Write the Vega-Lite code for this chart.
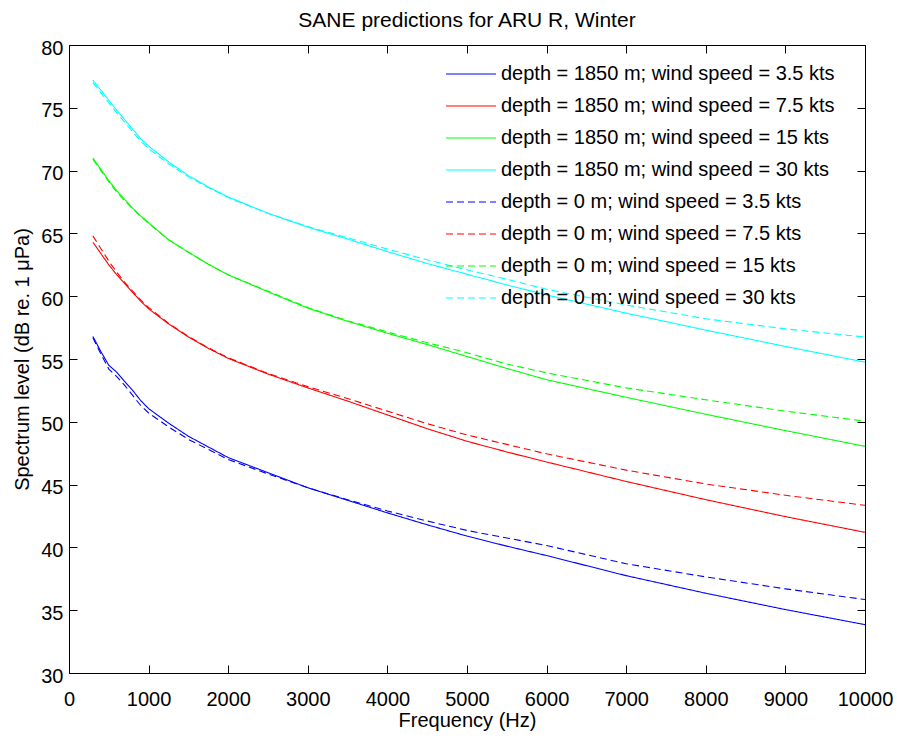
{
  "$schema": "https://vega.github.io/schema/vega-lite/v6.json",
  "width": 796,
  "height": 628,
  "autosize": {"type": "none"},
  "padding": {"left": 69, "top": 45, "right": 32, "bottom": 65},
  "title": {"text": "SANE predictions for ARU R, Winter", "fontSize": 21, "fontWeight": "normal", "color": "#000", "font": "Liberation Sans", "anchor": "middle", "frame": "group", "baseline": "bottom", "offset": 12, "dy": 26},
  "config": {
    "font": "Liberation Sans",
    "view": {"stroke": null},
    "axis": {"grid": false, "domainColor": "#000", "tickColor": "#000", "labelColor": "#000", "titleColor": "#000", "labelFontSize": 20, "titleFontSize": 20, "titleFontWeight": "normal", "tickSize": -8, "labelFont": "Liberation Sans", "titleFont": "Liberation Sans"}
  },
  "data": {"values": [
    {"s":"depth = 1850 m; wind speed = 3.5 kts","f":300,"v":56.8},{"s":"depth = 1850 m; wind speed = 3.5 kts","f":400,"v":55.6},{"s":"depth = 1850 m; wind speed = 3.5 kts","f":500,"v":54.5},{"s":"depth = 1850 m; wind speed = 3.5 kts","f":600,"v":53.95},{"s":"depth = 1850 m; wind speed = 3.5 kts","f":700,"v":53.2},{"s":"depth = 1850 m; wind speed = 3.5 kts","f":800,"v":52.5},{"s":"depth = 1850 m; wind speed = 3.5 kts","f":900,"v":51.7},{"s":"depth = 1850 m; wind speed = 3.5 kts","f":1000,"v":51.05},{"s":"depth = 1850 m; wind speed = 3.5 kts","f":1250,"v":49.9},{"s":"depth = 1850 m; wind speed = 3.5 kts","f":1500,"v":48.85},{"s":"depth = 1850 m; wind speed = 3.5 kts","f":1750,"v":48.0},{"s":"depth = 1850 m; wind speed = 3.5 kts","f":2000,"v":47.15},{"s":"depth = 1850 m; wind speed = 3.5 kts","f":2500,"v":45.95},{"s":"depth = 1850 m; wind speed = 3.5 kts","f":3000,"v":44.75},{"s":"depth = 1850 m; wind speed = 3.5 kts","f":3500,"v":43.75},{"s":"depth = 1850 m; wind speed = 3.5 kts","f":4000,"v":42.75},{"s":"depth = 1850 m; wind speed = 3.5 kts","f":4500,"v":41.8},{"s":"depth = 1850 m; wind speed = 3.5 kts","f":5000,"v":40.9},{"s":"depth = 1850 m; wind speed = 3.5 kts","f":5500,"v":40.1},{"s":"depth = 1850 m; wind speed = 3.5 kts","f":6000,"v":39.35},{"s":"depth = 1850 m; wind speed = 3.5 kts","f":7000,"v":37.75},{"s":"depth = 1850 m; wind speed = 3.5 kts","f":8000,"v":36.35},{"s":"depth = 1850 m; wind speed = 3.5 kts","f":9000,"v":35.05},{"s":"depth = 1850 m; wind speed = 3.5 kts","f":10000,"v":33.85},
    {"s":"depth = 1850 m; wind speed = 7.5 kts","f":300,"v":64.3},{"s":"depth = 1850 m; wind speed = 7.5 kts","f":400,"v":63.4},{"s":"depth = 1850 m; wind speed = 7.5 kts","f":500,"v":62.5},{"s":"depth = 1850 m; wind speed = 7.5 kts","f":600,"v":61.7},{"s":"depth = 1850 m; wind speed = 7.5 kts","f":700,"v":61.0},{"s":"depth = 1850 m; wind speed = 7.5 kts","f":800,"v":60.3},{"s":"depth = 1850 m; wind speed = 7.5 kts","f":900,"v":59.6},{"s":"depth = 1850 m; wind speed = 7.5 kts","f":1000,"v":59.0},{"s":"depth = 1850 m; wind speed = 7.5 kts","f":1250,"v":57.8},{"s":"depth = 1850 m; wind speed = 7.5 kts","f":1500,"v":56.75},{"s":"depth = 1850 m; wind speed = 7.5 kts","f":1750,"v":55.85},{"s":"depth = 1850 m; wind speed = 7.5 kts","f":2000,"v":55.05},{"s":"depth = 1850 m; wind speed = 7.5 kts","f":2500,"v":53.8},{"s":"depth = 1850 m; wind speed = 7.5 kts","f":3000,"v":52.7},{"s":"depth = 1850 m; wind speed = 7.5 kts","f":3500,"v":51.65},{"s":"depth = 1850 m; wind speed = 7.5 kts","f":4000,"v":50.55},{"s":"depth = 1850 m; wind speed = 7.5 kts","f":4500,"v":49.45},{"s":"depth = 1850 m; wind speed = 7.5 kts","f":5000,"v":48.45},{"s":"depth = 1850 m; wind speed = 7.5 kts","f":5500,"v":47.6},{"s":"depth = 1850 m; wind speed = 7.5 kts","f":6000,"v":46.8},{"s":"depth = 1850 m; wind speed = 7.5 kts","f":7000,"v":45.25},{"s":"depth = 1850 m; wind speed = 7.5 kts","f":8000,"v":43.8},{"s":"depth = 1850 m; wind speed = 7.5 kts","f":9000,"v":42.45},{"s":"depth = 1850 m; wind speed = 7.5 kts","f":10000,"v":41.2},
    {"s":"depth = 1850 m; wind speed = 15 kts","f":300,"v":71.0},{"s":"depth = 1850 m; wind speed = 15 kts","f":400,"v":70.1},{"s":"depth = 1850 m; wind speed = 15 kts","f":500,"v":69.2},{"s":"depth = 1850 m; wind speed = 15 kts","f":600,"v":68.4},{"s":"depth = 1850 m; wind speed = 15 kts","f":700,"v":67.7},{"s":"depth = 1850 m; wind speed = 15 kts","f":800,"v":67.0},{"s":"depth = 1850 m; wind speed = 15 kts","f":900,"v":66.4},{"s":"depth = 1850 m; wind speed = 15 kts","f":1000,"v":65.85},{"s":"depth = 1850 m; wind speed = 15 kts","f":1250,"v":64.5},{"s":"depth = 1850 m; wind speed = 15 kts","f":1500,"v":63.5},{"s":"depth = 1850 m; wind speed = 15 kts","f":1750,"v":62.55},{"s":"depth = 1850 m; wind speed = 15 kts","f":2000,"v":61.7},{"s":"depth = 1850 m; wind speed = 15 kts","f":2500,"v":60.35},{"s":"depth = 1850 m; wind speed = 15 kts","f":3000,"v":59.05},{"s":"depth = 1850 m; wind speed = 15 kts","f":3500,"v":58.0},{"s":"depth = 1850 m; wind speed = 15 kts","f":4000,"v":57.05},{"s":"depth = 1850 m; wind speed = 15 kts","f":4500,"v":56.15},{"s":"depth = 1850 m; wind speed = 15 kts","f":5000,"v":55.2},{"s":"depth = 1850 m; wind speed = 15 kts","f":5500,"v":54.25},{"s":"depth = 1850 m; wind speed = 15 kts","f":6000,"v":53.35},{"s":"depth = 1850 m; wind speed = 15 kts","f":7000,"v":51.95},{"s":"depth = 1850 m; wind speed = 15 kts","f":8000,"v":50.6},{"s":"depth = 1850 m; wind speed = 15 kts","f":9000,"v":49.3},{"s":"depth = 1850 m; wind speed = 15 kts","f":10000,"v":48.05},
    {"s":"depth = 1850 m; wind speed = 30 kts","f":300,"v":77.2},{"s":"depth = 1850 m; wind speed = 30 kts","f":400,"v":76.4},{"s":"depth = 1850 m; wind speed = 30 kts","f":500,"v":75.6},{"s":"depth = 1850 m; wind speed = 30 kts","f":600,"v":74.8},{"s":"depth = 1850 m; wind speed = 30 kts","f":700,"v":74.05},{"s":"depth = 1850 m; wind speed = 30 kts","f":800,"v":73.3},{"s":"depth = 1850 m; wind speed = 30 kts","f":900,"v":72.55},{"s":"depth = 1850 m; wind speed = 30 kts","f":1000,"v":71.95},{"s":"depth = 1850 m; wind speed = 30 kts","f":1250,"v":70.7},{"s":"depth = 1850 m; wind speed = 30 kts","f":1500,"v":69.6},{"s":"depth = 1850 m; wind speed = 30 kts","f":1750,"v":68.7},{"s":"depth = 1850 m; wind speed = 30 kts","f":2000,"v":67.9},{"s":"depth = 1850 m; wind speed = 30 kts","f":2500,"v":66.6},{"s":"depth = 1850 m; wind speed = 30 kts","f":3000,"v":65.5},{"s":"depth = 1850 m; wind speed = 30 kts","f":3500,"v":64.55},{"s":"depth = 1850 m; wind speed = 30 kts","f":4000,"v":63.55},{"s":"depth = 1850 m; wind speed = 30 kts","f":4500,"v":62.6},{"s":"depth = 1850 m; wind speed = 30 kts","f":5000,"v":61.75},{"s":"depth = 1850 m; wind speed = 30 kts","f":5500,"v":60.9},{"s":"depth = 1850 m; wind speed = 30 kts","f":6000,"v":60.1},{"s":"depth = 1850 m; wind speed = 30 kts","f":7000,"v":58.65},{"s":"depth = 1850 m; wind speed = 30 kts","f":8000,"v":57.3},{"s":"depth = 1850 m; wind speed = 30 kts","f":9000,"v":56.0},{"s":"depth = 1850 m; wind speed = 30 kts","f":10000,"v":54.75},
    {"s":"depth = 0 m; wind speed = 3.5 kts","f":300,"v":56.7},{"s":"depth = 0 m; wind speed = 3.5 kts","f":400,"v":55.4},{"s":"depth = 0 m; wind speed = 3.5 kts","f":500,"v":54.2},{"s":"depth = 0 m; wind speed = 3.5 kts","f":600,"v":53.6},{"s":"depth = 0 m; wind speed = 3.5 kts","f":700,"v":52.9},{"s":"depth = 0 m; wind speed = 3.5 kts","f":800,"v":52.1},{"s":"depth = 0 m; wind speed = 3.5 kts","f":900,"v":51.3},{"s":"depth = 0 m; wind speed = 3.5 kts","f":1000,"v":50.7},{"s":"depth = 0 m; wind speed = 3.5 kts","f":1250,"v":49.6},{"s":"depth = 0 m; wind speed = 3.5 kts","f":1500,"v":48.6},{"s":"depth = 0 m; wind speed = 3.5 kts","f":1750,"v":47.8},{"s":"depth = 0 m; wind speed = 3.5 kts","f":2000,"v":47.0},{"s":"depth = 0 m; wind speed = 3.5 kts","f":2500,"v":45.85},{"s":"depth = 0 m; wind speed = 3.5 kts","f":3000,"v":44.75},{"s":"depth = 0 m; wind speed = 3.5 kts","f":3500,"v":43.8},{"s":"depth = 0 m; wind speed = 3.5 kts","f":4000,"v":42.9},{"s":"depth = 0 m; wind speed = 3.5 kts","f":4500,"v":42.1},{"s":"depth = 0 m; wind speed = 3.5 kts","f":5000,"v":41.35},{"s":"depth = 0 m; wind speed = 3.5 kts","f":5500,"v":40.75},{"s":"depth = 0 m; wind speed = 3.5 kts","f":6000,"v":40.15},{"s":"depth = 0 m; wind speed = 3.5 kts","f":7000,"v":38.7},{"s":"depth = 0 m; wind speed = 3.5 kts","f":8000,"v":37.65},{"s":"depth = 0 m; wind speed = 3.5 kts","f":9000,"v":36.7},{"s":"depth = 0 m; wind speed = 3.5 kts","f":10000,"v":35.85},
    {"s":"depth = 0 m; wind speed = 7.5 kts","f":300,"v":64.8},{"s":"depth = 0 m; wind speed = 7.5 kts","f":400,"v":63.8},{"s":"depth = 0 m; wind speed = 7.5 kts","f":500,"v":62.8},{"s":"depth = 0 m; wind speed = 7.5 kts","f":600,"v":61.9},{"s":"depth = 0 m; wind speed = 7.5 kts","f":700,"v":61.1},{"s":"depth = 0 m; wind speed = 7.5 kts","f":800,"v":60.4},{"s":"depth = 0 m; wind speed = 7.5 kts","f":900,"v":59.7},{"s":"depth = 0 m; wind speed = 7.5 kts","f":1000,"v":59.1},{"s":"depth = 0 m; wind speed = 7.5 kts","f":1250,"v":57.85},{"s":"depth = 0 m; wind speed = 7.5 kts","f":1500,"v":56.8},{"s":"depth = 0 m; wind speed = 7.5 kts","f":1750,"v":55.9},{"s":"depth = 0 m; wind speed = 7.5 kts","f":2000,"v":55.1},{"s":"depth = 0 m; wind speed = 7.5 kts","f":2500,"v":53.85},{"s":"depth = 0 m; wind speed = 7.5 kts","f":3000,"v":52.8},{"s":"depth = 0 m; wind speed = 7.5 kts","f":3500,"v":51.85},{"s":"depth = 0 m; wind speed = 7.5 kts","f":4000,"v":50.85},{"s":"depth = 0 m; wind speed = 7.5 kts","f":4500,"v":49.85},{"s":"depth = 0 m; wind speed = 7.5 kts","f":5000,"v":48.95},{"s":"depth = 0 m; wind speed = 7.5 kts","f":5500,"v":48.2},{"s":"depth = 0 m; wind speed = 7.5 kts","f":6000,"v":47.45},{"s":"depth = 0 m; wind speed = 7.5 kts","f":7000,"v":46.15},{"s":"depth = 0 m; wind speed = 7.5 kts","f":8000,"v":45.05},{"s":"depth = 0 m; wind speed = 7.5 kts","f":9000,"v":44.15},{"s":"depth = 0 m; wind speed = 7.5 kts","f":10000,"v":43.35},
    {"s":"depth = 0 m; wind speed = 15 kts","f":300,"v":70.9},{"s":"depth = 0 m; wind speed = 15 kts","f":400,"v":70.0},{"s":"depth = 0 m; wind speed = 15 kts","f":500,"v":69.1},{"s":"depth = 0 m; wind speed = 15 kts","f":600,"v":68.3},{"s":"depth = 0 m; wind speed = 15 kts","f":700,"v":67.6},{"s":"depth = 0 m; wind speed = 15 kts","f":800,"v":66.95},{"s":"depth = 0 m; wind speed = 15 kts","f":900,"v":66.35},{"s":"depth = 0 m; wind speed = 15 kts","f":1000,"v":65.8},{"s":"depth = 0 m; wind speed = 15 kts","f":1250,"v":64.5},{"s":"depth = 0 m; wind speed = 15 kts","f":1500,"v":63.5},{"s":"depth = 0 m; wind speed = 15 kts","f":1750,"v":62.55},{"s":"depth = 0 m; wind speed = 15 kts","f":2000,"v":61.7},{"s":"depth = 0 m; wind speed = 15 kts","f":2500,"v":60.4},{"s":"depth = 0 m; wind speed = 15 kts","f":3000,"v":59.1},{"s":"depth = 0 m; wind speed = 15 kts","f":3500,"v":58.05},{"s":"depth = 0 m; wind speed = 15 kts","f":4000,"v":57.15},{"s":"depth = 0 m; wind speed = 15 kts","f":4500,"v":56.3},{"s":"depth = 0 m; wind speed = 15 kts","f":5000,"v":55.5},{"s":"depth = 0 m; wind speed = 15 kts","f":5500,"v":54.6},{"s":"depth = 0 m; wind speed = 15 kts","f":6000,"v":53.9},{"s":"depth = 0 m; wind speed = 15 kts","f":7000,"v":52.7},{"s":"depth = 0 m; wind speed = 15 kts","f":8000,"v":51.75},{"s":"depth = 0 m; wind speed = 15 kts","f":9000,"v":50.85},{"s":"depth = 0 m; wind speed = 15 kts","f":10000,"v":50.05},
    {"s":"depth = 0 m; wind speed = 30 kts","f":300,"v":77.0},{"s":"depth = 0 m; wind speed = 30 kts","f":400,"v":76.2},{"s":"depth = 0 m; wind speed = 30 kts","f":500,"v":75.4},{"s":"depth = 0 m; wind speed = 30 kts","f":600,"v":74.6},{"s":"depth = 0 m; wind speed = 30 kts","f":700,"v":73.85},{"s":"depth = 0 m; wind speed = 30 kts","f":800,"v":73.1},{"s":"depth = 0 m; wind speed = 30 kts","f":900,"v":72.35},{"s":"depth = 0 m; wind speed = 30 kts","f":1000,"v":71.75},{"s":"depth = 0 m; wind speed = 30 kts","f":1250,"v":70.55},{"s":"depth = 0 m; wind speed = 30 kts","f":1500,"v":69.5},{"s":"depth = 0 m; wind speed = 30 kts","f":1750,"v":68.65},{"s":"depth = 0 m; wind speed = 30 kts","f":2000,"v":67.85},{"s":"depth = 0 m; wind speed = 30 kts","f":2500,"v":66.6},{"s":"depth = 0 m; wind speed = 30 kts","f":3000,"v":65.55},{"s":"depth = 0 m; wind speed = 30 kts","f":3500,"v":64.65},{"s":"depth = 0 m; wind speed = 30 kts","f":4000,"v":63.75},{"s":"depth = 0 m; wind speed = 30 kts","f":4500,"v":62.9},{"s":"depth = 0 m; wind speed = 30 kts","f":5000,"v":62.1},{"s":"depth = 0 m; wind speed = 30 kts","f":5500,"v":61.35},{"s":"depth = 0 m; wind speed = 30 kts","f":6000,"v":60.55},{"s":"depth = 0 m; wind speed = 30 kts","f":7000,"v":59.3},{"s":"depth = 0 m; wind speed = 30 kts","f":8000,"v":58.2},{"s":"depth = 0 m; wind speed = 30 kts","f":9000,"v":57.4},{"s":"depth = 0 m; wind speed = 30 kts","f":10000,"v":56.75}
  ]},
  "layer": [
    {
      "mark": {"type": "line", "strokeWidth": 1.1, "clip": true},
      "encoding": {
        "x": {"field": "f", "type": "quantitative", "scale": {"domain": [0, 10000], "nice": false},
              "axis": {"orient": "bottom", "values": [0,1000,2000,3000,4000,5000,6000,7000,8000,9000,10000], "format": "d", "labelPadding": 24, "labelOverlap": false, "labelBound": false, "labelFlush": false, "title": "Frequency (Hz)", "titlePadding": 1}},
        "y": {"field": "v", "type": "quantitative", "scale": {"domain": [30, 80], "nice": false, "zero": false},
              "axis": {"orient": "left", "values": [30,35,40,45,50,55,60,65,70,75,80], "labelPadding": 14, "labelOffset": 3, "labelOverlap": false, "labelBound": false, "labelFlush": false, "title": "Spectrum level (dB re. 1 μPa)", "titlePadding": 8}},
        "color": {"field": "s", "type": "nominal",
          "scale": {"domain": ["depth = 1850 m; wind speed = 3.5 kts","depth = 1850 m; wind speed = 7.5 kts","depth = 1850 m; wind speed = 15 kts","depth = 1850 m; wind speed = 30 kts","depth = 0 m; wind speed = 3.5 kts","depth = 0 m; wind speed = 7.5 kts","depth = 0 m; wind speed = 15 kts","depth = 0 m; wind speed = 30 kts"],
                    "range": ["#0000ff","#ff0000","#00ff00","#00ffff","#0000ff","#ff0000","#00ff00","#00ffff"]},
          "legend": {"title": null, "orient": "none", "legendX": 389, "legendY": 16, "symbolType": "M-2,0H2", "symbolSize": 625, "symbolStrokeWidth": 1, "labelFontSize": 20, "labelFont": "Liberation Sans", "labelColor": "#000", "labelOffset": 17, "rowPadding": 9, "labelLimit": 500,
                     "encode": {"symbols": {"update": {"stroke": {"scale": "color", "field": "value"}, "fill": {"value": "transparent"}, "opacity": {"value": 1}, "strokeDash": {"signal": "test(/depth = 0 m/, datum.value) ? [7,4] : [1,0]"}}}}}},
        "strokeDash": {"field": "s", "type": "nominal", "legend": null,
          "scale": {"domain": ["depth = 1850 m; wind speed = 3.5 kts","depth = 1850 m; wind speed = 7.5 kts","depth = 1850 m; wind speed = 15 kts","depth = 1850 m; wind speed = 30 kts","depth = 0 m; wind speed = 3.5 kts","depth = 0 m; wind speed = 7.5 kts","depth = 0 m; wind speed = 15 kts","depth = 0 m; wind speed = 30 kts"],
                    "range": [[1,0],[1,0],[1,0],[1,0],[7,4],[7,4],[7,4],[7,4]]}}
      }
    },
    {
      "mark": {"type": "line", "strokeOpacity": 0},
      "encoding": {
        "x": {"field": "f", "type": "quantitative", "axis": {"orient": "top", "values": [0,1000,2000,3000,4000,5000,6000,7000,8000,9000,10000], "labels": false, "title": null}},
        "y": {"field": "v", "type": "quantitative", "axis": {"orient": "right", "values": [30,35,40,45,50,55,60,65,70,75,80], "labels": false, "title": null}},
        "detail": {"field": "s", "type": "nominal"}
      }
    }
  ]
}
